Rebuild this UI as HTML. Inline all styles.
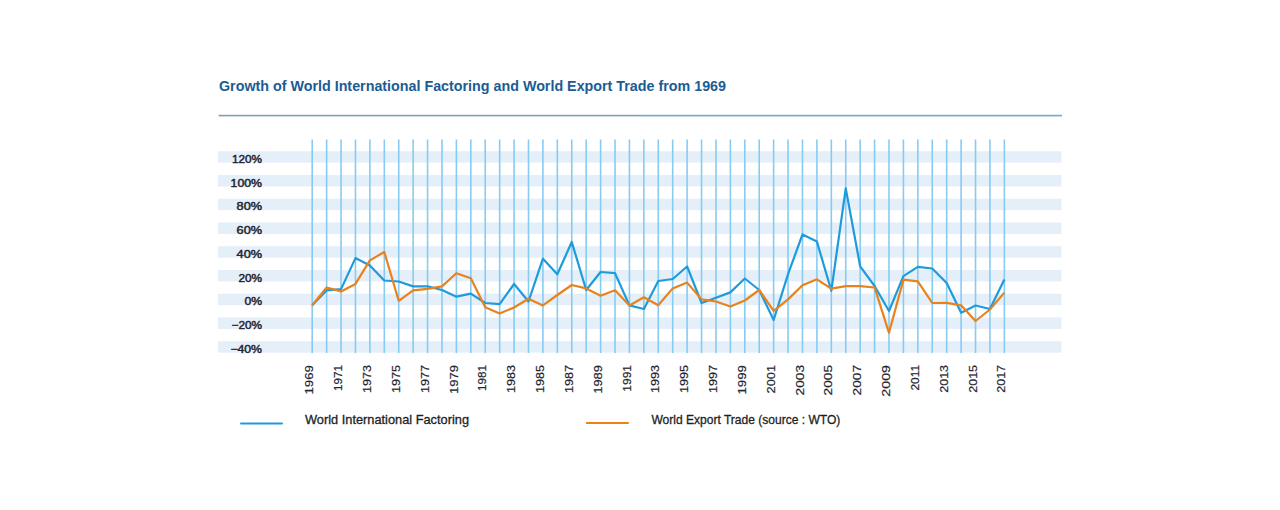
<!DOCTYPE html>
<html><head><meta charset="utf-8">
<style>
html,body{margin:0;padding:0;background:#fff;width:1280px;height:510px;overflow:hidden}
svg{position:absolute;left:0;top:0}
text{font-family:"Liberation Sans",sans-serif}
.title{font-size:15px;font-weight:bold;fill:#1a5c94}
.yl{font-size:10.6px;fill:#1f2630;stroke:#1f2630;stroke-width:0.45px}
.xl{font-size:11.2px;fill:#1f2630;stroke:#1f2630;stroke-width:0.2px}
.lg{font-size:12.6px;fill:#1e1e1e;stroke:#1e1e1e;stroke-width:0.3px}
</style></head><body>
<svg width="1280" height="510" viewBox="0 0 1280 510">
<text x="219" y="91.4" class="title" textLength="507" lengthAdjust="spacingAndGlyphs">Growth of World International Factoring and World Export Trade from 1969</text>
<rect x="218.5" y="114.8" width="421.5" height="1.6" fill="#78a2b7"/>
<rect x="640" y="114.8" width="422" height="1.6" fill="#6aadcb"/>
<rect x="218" y="151.20" width="843.5" height="11.5" fill="#e5effa"/>
<rect x="218" y="174.95" width="843.5" height="11.5" fill="#e5effa"/>
<rect x="218" y="198.70" width="843.5" height="11.5" fill="#e5effa"/>
<rect x="218" y="222.45" width="843.5" height="11.5" fill="#e5effa"/>
<rect x="218" y="246.20" width="843.5" height="11.5" fill="#e5effa"/>
<rect x="218" y="269.95" width="843.5" height="11.5" fill="#e5effa"/>
<rect x="218" y="293.70" width="843.5" height="11.5" fill="#e5effa"/>
<rect x="218" y="317.45" width="843.5" height="11.5" fill="#e5effa"/>
<rect x="218" y="341.20" width="843.5" height="11.5" fill="#e5effa"/>
<line x1="312.20" y1="139.5" x2="312.20" y2="353" stroke="#86ccf2" stroke-width="1.6"/>
<line x1="326.62" y1="139.5" x2="326.62" y2="353" stroke="#86ccf2" stroke-width="1.6"/>
<line x1="341.04" y1="139.5" x2="341.04" y2="353" stroke="#86ccf2" stroke-width="1.6"/>
<line x1="355.46" y1="139.5" x2="355.46" y2="353" stroke="#86ccf2" stroke-width="1.6"/>
<line x1="369.88" y1="139.5" x2="369.88" y2="353" stroke="#86ccf2" stroke-width="1.6"/>
<line x1="384.30" y1="139.5" x2="384.30" y2="353" stroke="#86ccf2" stroke-width="1.6"/>
<line x1="398.72" y1="139.5" x2="398.72" y2="353" stroke="#86ccf2" stroke-width="1.6"/>
<line x1="413.14" y1="139.5" x2="413.14" y2="353" stroke="#86ccf2" stroke-width="1.6"/>
<line x1="427.56" y1="139.5" x2="427.56" y2="353" stroke="#86ccf2" stroke-width="1.6"/>
<line x1="441.98" y1="139.5" x2="441.98" y2="353" stroke="#86ccf2" stroke-width="1.6"/>
<line x1="456.40" y1="139.5" x2="456.40" y2="353" stroke="#86ccf2" stroke-width="1.6"/>
<line x1="470.82" y1="139.5" x2="470.82" y2="353" stroke="#86ccf2" stroke-width="1.6"/>
<line x1="485.24" y1="139.5" x2="485.24" y2="353" stroke="#86ccf2" stroke-width="1.6"/>
<line x1="499.66" y1="139.5" x2="499.66" y2="353" stroke="#86ccf2" stroke-width="1.6"/>
<line x1="514.08" y1="139.5" x2="514.08" y2="353" stroke="#86ccf2" stroke-width="1.6"/>
<line x1="528.50" y1="139.5" x2="528.50" y2="353" stroke="#86ccf2" stroke-width="1.6"/>
<line x1="542.92" y1="139.5" x2="542.92" y2="353" stroke="#86ccf2" stroke-width="1.6"/>
<line x1="557.34" y1="139.5" x2="557.34" y2="353" stroke="#86ccf2" stroke-width="1.6"/>
<line x1="571.76" y1="139.5" x2="571.76" y2="353" stroke="#86ccf2" stroke-width="1.6"/>
<line x1="586.18" y1="139.5" x2="586.18" y2="353" stroke="#86ccf2" stroke-width="1.6"/>
<line x1="600.60" y1="139.5" x2="600.60" y2="353" stroke="#86ccf2" stroke-width="1.6"/>
<line x1="615.02" y1="139.5" x2="615.02" y2="353" stroke="#86ccf2" stroke-width="1.6"/>
<line x1="629.44" y1="139.5" x2="629.44" y2="353" stroke="#86ccf2" stroke-width="1.6"/>
<line x1="643.86" y1="139.5" x2="643.86" y2="353" stroke="#86ccf2" stroke-width="1.6"/>
<line x1="658.28" y1="139.5" x2="658.28" y2="353" stroke="#86ccf2" stroke-width="1.6"/>
<line x1="672.70" y1="139.5" x2="672.70" y2="353" stroke="#86ccf2" stroke-width="1.6"/>
<line x1="687.12" y1="139.5" x2="687.12" y2="353" stroke="#86ccf2" stroke-width="1.6"/>
<line x1="701.54" y1="139.5" x2="701.54" y2="353" stroke="#86ccf2" stroke-width="1.6"/>
<line x1="715.96" y1="139.5" x2="715.96" y2="353" stroke="#86ccf2" stroke-width="1.6"/>
<line x1="730.38" y1="139.5" x2="730.38" y2="353" stroke="#86ccf2" stroke-width="1.6"/>
<line x1="744.80" y1="139.5" x2="744.80" y2="353" stroke="#86ccf2" stroke-width="1.6"/>
<line x1="759.22" y1="139.5" x2="759.22" y2="353" stroke="#86ccf2" stroke-width="1.6"/>
<line x1="773.64" y1="139.5" x2="773.64" y2="353" stroke="#86ccf2" stroke-width="1.6"/>
<line x1="788.06" y1="139.5" x2="788.06" y2="353" stroke="#86ccf2" stroke-width="1.6"/>
<line x1="802.48" y1="139.5" x2="802.48" y2="353" stroke="#86ccf2" stroke-width="1.6"/>
<line x1="816.90" y1="139.5" x2="816.90" y2="353" stroke="#86ccf2" stroke-width="1.6"/>
<line x1="831.32" y1="139.5" x2="831.32" y2="353" stroke="#86ccf2" stroke-width="1.6"/>
<line x1="845.74" y1="139.5" x2="845.74" y2="353" stroke="#86ccf2" stroke-width="1.6"/>
<line x1="860.16" y1="139.5" x2="860.16" y2="353" stroke="#86ccf2" stroke-width="1.6"/>
<line x1="874.58" y1="139.5" x2="874.58" y2="353" stroke="#86ccf2" stroke-width="1.6"/>
<line x1="889.00" y1="139.5" x2="889.00" y2="353" stroke="#86ccf2" stroke-width="1.6"/>
<line x1="903.42" y1="139.5" x2="903.42" y2="353" stroke="#86ccf2" stroke-width="1.6"/>
<line x1="917.84" y1="139.5" x2="917.84" y2="353" stroke="#86ccf2" stroke-width="1.6"/>
<line x1="932.26" y1="139.5" x2="932.26" y2="353" stroke="#86ccf2" stroke-width="1.6"/>
<line x1="946.68" y1="139.5" x2="946.68" y2="353" stroke="#86ccf2" stroke-width="1.6"/>
<line x1="961.10" y1="139.5" x2="961.10" y2="353" stroke="#86ccf2" stroke-width="1.6"/>
<line x1="975.52" y1="139.5" x2="975.52" y2="353" stroke="#86ccf2" stroke-width="1.6"/>
<line x1="989.94" y1="139.5" x2="989.94" y2="353" stroke="#86ccf2" stroke-width="1.6"/>
<line x1="1004.36" y1="139.5" x2="1004.36" y2="353" stroke="#86ccf2" stroke-width="1.6"/>
<polyline points="312.20,305.20 326.62,290.40 341.04,289.10 355.46,258.10 369.88,265.50 384.30,280.50 398.72,281.50 413.14,286.40 427.56,286.40 441.98,290.00 456.40,296.70 470.82,293.60 485.24,303.00 499.66,304.20 514.08,284.00 528.50,301.50 542.92,258.70 557.34,274.30 571.76,242.00 586.18,290.00 600.60,272.00 615.02,273.20 629.44,305.40 643.86,309.00 658.28,281.00 672.70,279.00 687.12,266.50 701.54,303.00 715.96,297.80 730.38,292.40 744.80,278.50 759.22,290.00 773.64,320.00 788.06,274.10 802.48,234.50 816.90,241.60 831.32,290.80 845.74,188.40 860.16,266.30 874.58,286.00 889.00,311.00 903.42,276.10 917.84,266.80 932.26,268.50 946.68,283.00 961.10,312.70 975.52,305.50 989.94,309.00 1004.36,279.60" fill="none" stroke="#1e9bdc" stroke-width="2.2" stroke-linejoin="round"/>
<polyline points="312.20,305.20 326.62,287.50 341.04,291.40 355.46,283.90 369.88,260.40 384.30,252.00 398.72,300.80 413.14,290.40 427.56,288.80 441.98,286.40 456.40,273.20 470.82,278.20 485.24,307.20 499.66,313.40 514.08,307.50 528.50,298.70 542.92,305.40 557.34,295.00 571.76,285.00 586.18,288.40 600.60,295.70 615.02,290.30 629.44,305.50 643.86,297.30 658.28,305.20 672.70,288.40 687.12,282.60 701.54,299.40 715.96,301.50 730.38,306.50 744.80,300.50 759.22,290.00 773.64,310.80 788.06,299.40 802.48,285.20 816.90,279.30 831.32,288.70 845.74,286.20 860.16,286.20 874.58,287.50 889.00,332.80 903.42,279.70 917.84,281.40 932.26,303.00 946.68,302.80 961.10,305.30 975.52,321.00 989.94,309.50 1004.36,292.60" fill="none" stroke="#e8821c" stroke-width="2.2" stroke-linejoin="round"/>
<text x="262" y="162.80" text-anchor="end" class="yl" textLength="30.0" lengthAdjust="spacingAndGlyphs">120%</text>
<text x="262" y="186.55" text-anchor="end" class="yl" textLength="31.4" lengthAdjust="spacingAndGlyphs">100%</text>
<text x="262" y="210.30" text-anchor="end" class="yl" textLength="25.4" lengthAdjust="spacingAndGlyphs">80%</text>
<text x="262" y="234.05" text-anchor="end" class="yl" textLength="25.4" lengthAdjust="spacingAndGlyphs">60%</text>
<text x="262" y="257.80" text-anchor="end" class="yl" textLength="25.4" lengthAdjust="spacingAndGlyphs">40%</text>
<text x="262" y="281.55" text-anchor="end" class="yl" textLength="23.6" lengthAdjust="spacingAndGlyphs">20%</text>
<text x="262" y="305.30" text-anchor="end" class="yl" textLength="17.6" lengthAdjust="spacingAndGlyphs">0%</text>
<text x="262" y="329.05" text-anchor="end" class="yl" textLength="30.4" lengthAdjust="spacingAndGlyphs">−20%</text>
<text x="262" y="352.80" text-anchor="end" class="yl" textLength="31.6" lengthAdjust="spacingAndGlyphs">−40%</text>
<text transform="translate(313.30,365.0) rotate(-90)" text-anchor="end" class="xl" textLength="29.55" lengthAdjust="spacingAndGlyphs">1969</text>
<text transform="translate(342.14,365.0) rotate(-90)" text-anchor="end" class="xl" textLength="25.98" lengthAdjust="spacingAndGlyphs">1971</text>
<text transform="translate(370.98,365.0) rotate(-90)" text-anchor="end" class="xl" textLength="28.01" lengthAdjust="spacingAndGlyphs">1973</text>
<text transform="translate(399.82,365.0) rotate(-90)" text-anchor="end" class="xl" textLength="28.13" lengthAdjust="spacingAndGlyphs">1975</text>
<text transform="translate(428.66,365.0) rotate(-90)" text-anchor="end" class="xl" textLength="28.13" lengthAdjust="spacingAndGlyphs">1977</text>
<text transform="translate(457.50,365.0) rotate(-90)" text-anchor="end" class="xl" textLength="28.94" lengthAdjust="spacingAndGlyphs">1979</text>
<text transform="translate(486.34,365.0) rotate(-90)" text-anchor="end" class="xl" textLength="26.06" lengthAdjust="spacingAndGlyphs">1981</text>
<text transform="translate(515.18,365.0) rotate(-90)" text-anchor="end" class="xl" textLength="28.07" lengthAdjust="spacingAndGlyphs">1983</text>
<text transform="translate(544.02,365.0) rotate(-90)" text-anchor="end" class="xl" textLength="28.07" lengthAdjust="spacingAndGlyphs">1985</text>
<text transform="translate(572.86,365.0) rotate(-90)" text-anchor="end" class="xl" textLength="28.07" lengthAdjust="spacingAndGlyphs">1987</text>
<text transform="translate(601.70,365.0) rotate(-90)" text-anchor="end" class="xl" textLength="28.75" lengthAdjust="spacingAndGlyphs">1989</text>
<text transform="translate(630.54,365.0) rotate(-90)" text-anchor="end" class="xl" textLength="26.73" lengthAdjust="spacingAndGlyphs">1991</text>
<text transform="translate(659.38,365.0) rotate(-90)" text-anchor="end" class="xl" textLength="28.07" lengthAdjust="spacingAndGlyphs">1993</text>
<text transform="translate(688.22,365.0) rotate(-90)" text-anchor="end" class="xl" textLength="28.07" lengthAdjust="spacingAndGlyphs">1995</text>
<text transform="translate(717.06,365.0) rotate(-90)" text-anchor="end" class="xl" textLength="28.07" lengthAdjust="spacingAndGlyphs">1997</text>
<text transform="translate(745.90,365.0) rotate(-90)" text-anchor="end" class="xl" textLength="29.55" lengthAdjust="spacingAndGlyphs">1999</text>
<text transform="translate(774.74,365.0) rotate(-90)" text-anchor="end" class="xl" textLength="28.51" lengthAdjust="spacingAndGlyphs">2001</text>
<text transform="translate(803.58,365.0) rotate(-90)" text-anchor="end" class="xl" textLength="30.48" lengthAdjust="spacingAndGlyphs">2003</text>
<text transform="translate(832.42,365.0) rotate(-90)" text-anchor="end" class="xl" textLength="30.48" lengthAdjust="spacingAndGlyphs">2005</text>
<text transform="translate(861.26,365.0) rotate(-90)" text-anchor="end" class="xl" textLength="30.48" lengthAdjust="spacingAndGlyphs">2007</text>
<text transform="translate(890.10,365.0) rotate(-90)" text-anchor="end" class="xl" textLength="31.65" lengthAdjust="spacingAndGlyphs">2009</text>
<text transform="translate(918.94,365.0) rotate(-90)" text-anchor="end" class="xl" textLength="25.62" lengthAdjust="spacingAndGlyphs">2011</text>
<text transform="translate(947.78,365.0) rotate(-90)" text-anchor="end" class="xl" textLength="27.68" lengthAdjust="spacingAndGlyphs">2013</text>
<text transform="translate(976.62,365.0) rotate(-90)" text-anchor="end" class="xl" textLength="27.68" lengthAdjust="spacingAndGlyphs">2015</text>
<text transform="translate(1005.46,365.0) rotate(-90)" text-anchor="end" class="xl" textLength="27.68" lengthAdjust="spacingAndGlyphs">2017</text>
<rect x="240" y="422.4" width="43" height="2" rx="1" fill="#1e9bdc"/>
<text x="305" y="424.1" class="lg" textLength="164" lengthAdjust="spacingAndGlyphs">World International Factoring</text>
<rect x="585.8" y="422" width="43.2" height="2" rx="1" fill="#e8821c"/>
<text x="651.4" y="424.1" class="lg" textLength="189" lengthAdjust="spacingAndGlyphs">World Export Trade (source : WTO)</text>
</svg>
</body></html>
